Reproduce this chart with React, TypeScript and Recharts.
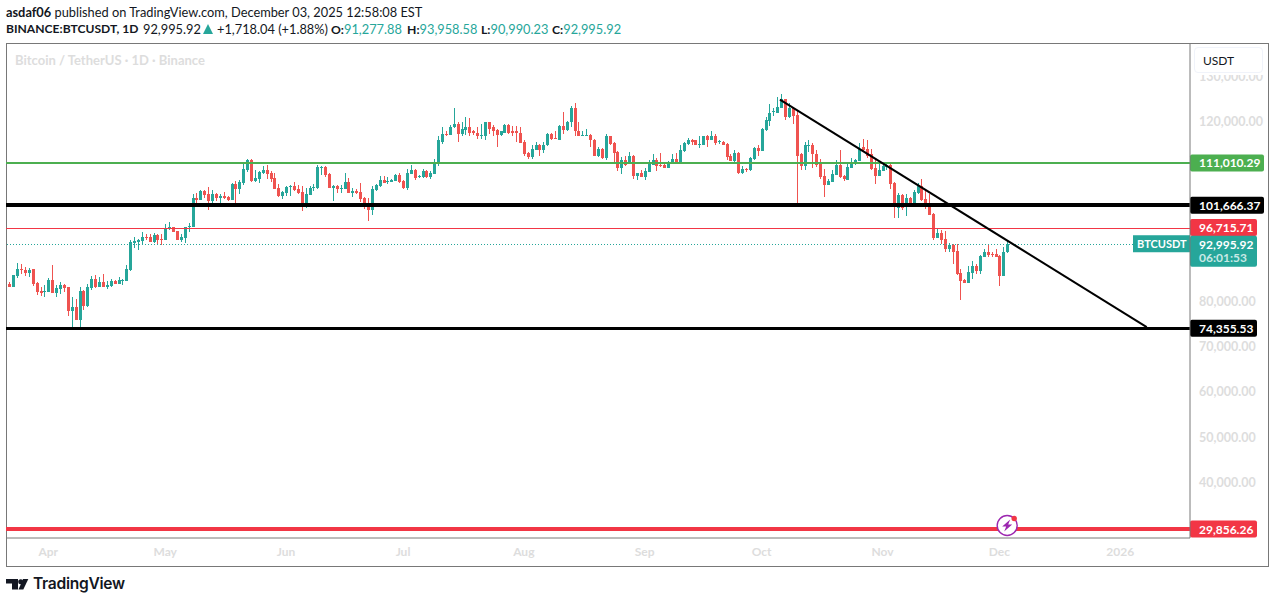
import React from "react";
import { ComposedChart, Bar, XAxis, YAxis, ReferenceLine, ReferenceDot } from "recharts";

// daily candles in thousands of USDT (Mar 22 -> Dec 3 2025)
const opens = [
  84.2,83.6,86.0,87.5,87.3,86.6,87.4,84.4,82.6,82.4,
  82.4,85.1,82.2,83.1,84.0,83.5,78.2,79.1,76.2,82.6,
  79.3,83.3,85.3,83.5,84.6,83.5,83.7,84.8,84.2,84.9,
  84.8,87.3,93.3,93.6,93.7,94.6,94.6,93.5,95.1,94.2,
  94.0,96.3,96.8,96.0,94.0,94.4,96.8,96.8,103.3,102.8,
  104.8,104.2,102.6,104.2,103.3,103.7,103.5,102.9,106.4,105.3,
  106.6,109.5,111.7,107.1,107.5,108.9,109.5,108.9,107.7,105.5,
  103.7,104.4,105.7,106.0,105.3,104.6,102.0,104.0,105.5,105.5,
  110.0,110.2,108.6,105.5,106.0,105.4,105.3,106.9,104.4,104.9,
  104.6,103.3,102.2,100.6,105.1,106.0,107.3,106.9,106.9,107.1,
  108.4,107.1,105.5,108.6,109.5,108.0,108.0,109.3,108.0,108.6,
  111.1,115.7,117.5,117.3,118.9,119.7,117.5,118.4,119.1,118.0,
  117.7,117.1,117.1,120.0,118.9,118.4,117.3,117.7,119.5,118.0,
  118.0,117.7,115.7,113.3,112.4,114.0,115.1,114.0,114.9,117.5,
  116.6,116.2,119.3,118.4,120.0,123.3,118.2,117.1,117.1,117.3,
  116.2,112.6,114.2,112.2,116.9,115.5,113.5,110.0,111.7,111.1,
  112.6,108.2,108.9,108.0,109.1,110.6,111.7,110.6,110.6,110.0,
  111.1,112.0,111.1,113.7,115.3,116.0,116.0,115.1,115.1,116.9,
  116.2,117.1,115.6,115.7,115.3,112.6,111.5,113.3,108.9,109.7,
  109.5,112.0,114.4,113.7,118.4,120.4,122.4,122.2,123.3,125.1,
  121.1,123.3,121.7,112.9,110.4,114.9,115.1,113.1,110.9,108.2,
  106.2,106.9,108.4,110.6,108.2,107.3,110.0,111.3,111.5,114.6,
  114.2,112.9,110.0,108.2,109.3,110.2,110.6,106.6,101.0,104.0,
  101.4,103.3,102.0,104.4,106.0,103.1,101.7,99.7,94.4,95.5,
  94.2,92.0,92.9,91.5,86.6,85.1,84.4,86.6,88.2,87.1,
  90.2,91.3,90.9,90.9,90.4,86.0,91.27788,
];
const closes = [
  83.6,86.2,87.5,87.3,86.6,87.3,84.2,82.4,82.2,82.6,
  85.1,82.2,83.3,84.0,83.3,78.2,79.1,76.2,82.6,79.3,
  83.5,85.3,83.5,84.6,83.5,84.0,84.8,84.2,85.1,85.1,
  87.5,93.5,93.7,94.0,94.6,94.4,93.5,95.1,94.0,94.0,
  96.5,96.8,95.7,94.0,94.6,96.8,97.1,103.3,102.8,104.8,
  104.0,102.6,104.2,103.3,103.7,103.3,102.9,106.4,105.3,106.9,
  109.7,111.7,107.1,107.7,109.1,109.5,108.6,107.5,105.3,103.7,
  104.6,105.7,106.0,105.1,104.4,102.0,104.2,105.5,105.7,110.2,
  110.2,108.4,105.5,106.0,105.3,105.5,106.9,104.4,104.9,104.4,
  103.1,102.2,100.6,105.3,106.2,107.3,106.6,107.1,107.3,108.4,
  106.9,105.5,108.9,109.5,107.7,108.2,109.3,108.0,108.9,111.1,
  116.0,117.5,117.3,119.1,119.7,117.5,118.6,119.1,117.7,117.7,
  117.1,117.3,120.0,118.6,118.2,117.3,118.0,119.5,117.7,117.7,
  117.7,115.5,113.1,112.4,114.2,115.1,114.0,115.1,117.5,116.4,
  116.4,119.3,118.4,120.2,123.3,118.0,117.1,117.2,117.2,116.0,
  112.6,114.2,112.2,116.9,115.3,113.3,110.0,111.7,110.6,112.6,
  108.2,108.9,108.0,109.3,110.9,111.7,110.4,110.4,110.0,111.1,
  112.0,111.3,114.0,115.5,116.0,115.7,115.1,115.3,116.9,116.2,
  117.1,115.5,115.8,115.1,112.4,111.5,113.3,108.9,109.7,109.5,
  112.2,114.4,113.7,118.6,120.6,122.2,122.6,123.5,125.1,121.1,
  123.3,121.5,112.6,110.4,114.9,115.1,112.9,110.6,108.0,106.2,
  107.1,108.6,110.6,108.0,107.5,110.2,110.9,111.7,114.2,114.0,
  112.6,109.7,108.2,109.5,110.4,110.6,106.4,102.1,104.0,101.0,
  103.3,102.0,104.6,106.2,102.9,101.7,99.5,94.4,95.5,94.0,
  92.0,92.9,91.3,86.4,84.9,84.4,86.9,88.2,87.1,90.4,
  91.3,90.6,90.6,90.2,86.0,91.3,92.99592,
];
const highs = [
  84.6,86.2,88.8,88.6,87.9,87.7,87.5,84.6,83.5,84.0,
  85.5,88.4,84.0,84.6,84.2,83.6,81.3,80.9,83.5,82.8,
  84.2,86.0,86.2,85.7,86.4,84.8,85.4,85.1,85.7,85.4,
  88.5,94.0,94.6,94.1,95.7,95.3,95.3,95.5,95.3,95.3,
  97.5,98.0,96.9,96.0,95.3,96.9,97.7,104.2,104.4,105.1,
  105.1,105.7,105.1,104.4,104.2,104.6,103.7,106.6,107.1,107.3,
  110.9,112.0,111.8,109.5,109.3,110.4,110.6,109.3,108.9,106.4,
  104.9,106.0,106.1,106.9,106.2,106.0,105.5,106.0,106.4,110.6,
  110.4,110.4,108.9,106.2,106.2,106.2,108.9,107.7,105.5,105.3,
  106.6,103.5,103.3,106.0,106.3,108.2,108.2,108.0,107.5,108.6,
  108.9,107.3,109.7,110.6,109.7,108.4,109.7,109.5,109.3,112.0,
  116.9,118.9,118.2,119.5,123.3,120.0,120.0,121.1,120.9,118.4,
  118.9,119.7,120.2,120.2,119.5,118.5,118.2,119.7,119.7,119.3,
  119.3,118.9,116.0,113.5,114.9,115.7,115.2,115.7,117.6,117.6,
  118.0,119.4,122.4,120.4,123.7,124.4,120.0,118.0,118.6,117.5,
  116.3,114.6,114.4,117.5,117.1,115.7,113.7,112.4,112.6,113.5,
  112.7,108.9,109.5,110.0,111.7,112.9,112.2,113.3,110.9,111.5,
  112.9,113.3,114.9,115.7,116.6,116.4,116.2,116.9,116.9,117.3,
  118.0,117.5,116.2,115.8,115.4,112.9,114.0,113.5,110.4,109.8,
  112.4,114.5,114.9,118.7,121.1,124.0,123.1,125.7,126.2,125.2,
  124.4,123.5,122.6,113.3,115.7,116.0,115.5,114.0,112.0,109.7,
  107.5,109.5,111.7,114.0,108.4,110.9,112.2,112.0,115.5,116.4,
  116.2,114.2,111.7,111.1,110.9,111.0,110.9,106.7,104.3,104.2,
  104.2,103.4,105.1,106.6,107.5,105.1,104.2,100.0,96.4,96.2,
  96.0,93.3,93.1,93.1,87.5,85.3,88.2,89.3,88.6,90.6,
  92.0,93.1,91.3,92.0,90.5,92.4,93.95858,
];
const lows = [
  83.6,83.5,85.6,86.4,86.0,85.7,83.7,81.7,81.5,81.3,
  82.4,82.2,81.3,82.0,82.4,77.1,74.5,76.2,74.6,78.4,
  79.1,82.8,83.3,83.5,83.5,83.1,83.6,84.2,84.2,84.0,
  84.8,87.1,92.2,91.7,92.8,94.0,93.5,93.3,93.1,92.8,
  94.0,96.2,95.7,94.0,93.5,93.3,95.7,96.8,102.2,102.8,
  103.3,100.6,102.2,102.6,102.2,103.1,102.6,102.9,102.2,104.2,
  106.2,109.1,106.9,106.9,106.6,108.6,107.5,106.9,105.3,103.5,
  103.1,103.7,103.7,104.9,104.2,100.4,101.1,104.0,104.9,105.3,
  108.4,108.0,105.5,102.6,104.4,104.4,105.3,104.4,103.5,104.2,
  102.4,100.9,98.2,99.5,104.9,105.7,106.6,106.4,106.9,107.1,
  106.6,105.3,105.1,108.6,107.3,107.7,107.7,107.7,107.5,108.6,
  110.4,115.3,116.9,117.3,118.8,115.7,117.1,117.3,116.9,117.3,
  116.4,116.4,116.2,117.5,117.1,114.6,117.1,117.7,117.5,116.9,
  115.7,115.5,112.6,112.0,112.0,114.0,112.6,113.3,114.8,116.0,
  116.4,116.1,117.5,118.2,118.9,117.1,116.9,117.0,117.0,114.6,
  112.6,112.4,112.0,111.7,115.1,110.9,109.3,108.6,110.4,111.1,
  107.5,107.3,108.0,107.3,109.1,110.6,109.3,110.2,110.0,110.0,
  110.9,111.1,111.1,113.5,115.1,115.1,115.1,114.4,114.9,114.6,
  116.2,115.1,115.3,115.0,111.7,111.5,111.3,108.6,108.6,109.1,
  109.3,111.7,112.6,113.6,118.2,119.3,121.5,122.1,123.1,120.6,
  121.0,119.7,102.1,109.5,109.5,113.5,110.0,110.2,107.5,103.5,
  106.1,106.8,108.3,107.7,107.1,107.2,109.9,110.6,111.4,113.5,
  112.2,109.5,106.4,108.1,109.2,109.5,105.3,98.9,98.9,100.5,
  99.3,101.7,101.9,104.2,102.6,100.9,99.5,94.0,94.3,93.1,
  91.3,91.3,88.6,86.2,80.6,84.4,84.3,85.3,86.4,86.4,
  90.1,90.2,90.2,90.1,83.7,85.9,90.99023,
];

const monthTicks = [10, 40, 71, 101, 132, 163, 193, 224, 254, 285];
const monthLabels = ["Apr", "May", "Jun", "Jul", "Aug", "Sep", "Oct", "Nov", "Dec", "2026"];
// 30k, 90k, 100k and 110k sit behind the price tags in the picture
const priceTicks = [40000, 50000, 60000, 70000, 80000, 120000, 130000];

const lastPrice = 92995.92;
const resistance = 111010.29;
const upperBlack = 101666.37;
const thinRed = 96715.71;
const lowerBlack = 74355.53;
const bottomRed = 29856.26;
const trendStart = { x: 197.7, y: 125067 };
const trendEnd = { x: 291.8, y: 74622 };

const GREEN = "#26a69a";
const RED = "#ef5350";
const FONT = "Lato, sans-serif";

const rows = opens.map((o, i) => ({
  day: i,
  open: o * 1000,
  close: closes[i] * 1000,
  high: highs[i] * 1000,
  low: lows[i] * 1000,
  range: [lows[i] * 1000, highs[i] * 1000],
}));

const fmt = (v: number) =>
  v.toLocaleString("en-US", { minimumFractionDigits: 2, maximumFractionDigits: 2 });

function Candle(props: any) {
  const { x, y, width, height, payload } = props;
  if (!payload) return null;
  const { open, close, high, low } = payload;
  const perUnit = height / (high - low || 1);
  const top = Math.round(y + (high - Math.max(open, close)) * perUnit);
  const bottom = Math.round(y + (high - Math.min(open, close)) * perUnit);
  const color = close >= open ? GREEN : RED;
  const left = Math.round(x) + 1;
  const cx = left + width / 2;
  return (
    <g>
      <line x1={cx} x2={cx} y1={Math.round(y)} y2={Math.round(y + height)} stroke={color} strokeWidth={1} />
      <rect x={left} y={top} width={width} height={Math.max(bottom - top, 1)} fill={color} />
    </g>
  );
}

function PriceTag(props: any) {
  const { viewBox, value, color } = props;
  if (!viewBox) return null;
  const left = viewBox.x + viewBox.width;
  const w = value >= 100000 ? 74 : 67;
  return (
    <g>
      <rect x={left} y={viewBox.y - 8.5} width={w} height={17} rx={2} fill={color} />
      <text x={left + 9} y={viewBox.y + 4.5} fill="#fff" fontSize={12} fontWeight={700} fontFamily={FONT}>
        {fmt(value)}
      </text>
    </g>
  );
}

function LastTag(props: any) {
  const { viewBox } = props;
  if (!viewBox) return null;
  const left = viewBox.x + viewBox.width;
  return (
    <g fontFamily={FONT}>
      <rect x={left - 57} y={viewBox.y - 9} width={57} height={17} fill={GREEN} />
      <text x={left - 53} y={viewBox.y + 4} fill="#fff" fontSize={11} fontWeight={700}>BTCUSDT</text>
      <rect x={left} y={viewBox.y - 8.5} width={67} height={31} rx={2} fill={GREEN} />
      <text x={left + 9} y={viewBox.y + 4.5} fill="#fff" fontSize={12} fontWeight={700}>{fmt(lastPrice)}</text>
      <text x={left + 9} y={viewBox.y + 18} fill="#c9e9e6" fontSize={12} fontWeight={700}>06:01:53</text>
    </g>
  );
}

function FlashIcon(props: any) {
  const { cx, cy } = props;
  return (
    <g>
      <circle cx={cx} cy={cy} r={10} fill="#fff" stroke="#9c27b0" strokeWidth={1.4} />
      <path d={`M${cx + 3} ${cy - 6}L${cx - 5} ${cy + 1}H${cx - 1}L${cx - 3} ${cy + 6}L${cx + 5} ${cy - 1}H${cx + 1}Z`} fill="#9c27b0" />
      <circle cx={cx + 7} cy={cy - 7} r={2.7} fill="#f23645" />
    </g>
  );
}

const textStyle: React.CSSProperties = {
  position: "absolute",
  whiteSpace: "nowrap",
  fontFamily: FONT,
  fontSize: 12.8,
  color: "#131722",
  lineHeight: "16px",
};

// second header line, placed piece by piece
function Quote({ left, label, value }: { left: number; label: string; value: string }) {
  return (
    <div style={{ ...textStyle, left, top: 21 }}>
      <b style={{ fontSize: 12.2 }}>{label}</b>
      <span style={{ color: GREEN }}>{value}</span>
    </div>
  );
}

export default function App() {
  return (
    <div style={{ position: "absolute", left: 0, top: 0, width: 1275, height: 603, background: "#fff", overflow: "hidden" }}>
      <div style={{ ...textStyle, left: 6, top: 4 }}>
        <b>asdaf06</b> published on TradingView.com, December 03, 2025 12:58:08 EST
      </div>
      <div style={{ ...textStyle, left: 6, top: 21, fontSize: 12.1, fontWeight: 700 }}>BINANCE:BTCUSDT, 1D</div>
      <div style={{ ...textStyle, left: 143, top: 21 }}>92,995.92</div>
      <svg style={{ position: "absolute", left: 203, top: 24 }} width={10} height={10}>
        <path d="M5 0L10 10H0Z" fill={GREEN} />
      </svg>
      <div style={{ ...textStyle, left: 217, top: 21 }}>+1,718.04 (+1.88%)</div>
      <Quote left={331} label="O:" value="91,277.88" />
      <Quote left={407} label="H:" value="93,958.58" />
      <Quote left={481} label="L:" value="90,990.23" />
      <Quote left={552} label="C:" value="92,995.92" />

      <div style={{ position: "absolute", left: 6, top: 43, width: 1261, height: 522, border: "1px solid #787878" }} />
      <div style={{ ...textStyle, left: 15, top: 52, color: "#dddddd", fontWeight: 700, fontSize: 13 }}>
        Bitcoin / TetherUS · 1D · Binance
      </div>

      <div style={{ position: "absolute", left: 0, top: 0 }}>
        <ComposedChart
          width={1275}
          height={603}
          data={rows}
          margin={{ top: 44, right: 7, bottom: 37, left: 6 }}
        >
          <XAxis
            dataKey="day"
            type="number"
            domain={[-0.85, 302.9]}
            ticks={monthTicks}
            interval={0}
            height={28}
            axisLine={{ stroke: "#787878" }}
            tickLine={false}
            tick={{ fill: "#dddddd", fontSize: 12, fontFamily: FONT, fontWeight: 700, dy: 1 }}
            tickFormatter={(v: number) => monthLabels[monthTicks.indexOf(v)]}
          />
          <YAxis
            orientation="right"
            width={78}
            domain={[27861, 137396]}
            ticks={priceTicks}
            interval={0}
            axisLine={{ stroke: "#787878" }}
            tickLine={false}
            tickMargin={3}
            tick={{ fill: "#dddddd", fontSize: 12.5, fontFamily: FONT, fontWeight: 700, dy: -1 }}
            tickFormatter={fmt}
          />
          <Bar dataKey="range" barSize={3} shape={<Candle />} isAnimationActive={false} />
          <ReferenceLine y={resistance} stroke="#4caf50" strokeWidth={2} shapeRendering="crispEdges" label={<PriceTag value={resistance} color="#4caf50" />} />
          <ReferenceLine y={upperBlack} stroke="#000" strokeWidth={4} shapeRendering="crispEdges" label={<PriceTag value={upperBlack} color="#000" />} />
          <ReferenceLine y={thinRed} stroke="#f23645" strokeWidth={1} shapeRendering="crispEdges" transform="translate(0 1)" label={<PriceTag value={thinRed} color="#f23645" />} />
          <ReferenceLine y={lastPrice} stroke={GREEN} strokeDasharray="1 2" strokeWidth={1} shapeRendering="crispEdges" label={<LastTag />} />
          <ReferenceLine y={lowerBlack} stroke="#000" strokeWidth={3} shapeRendering="crispEdges" label={<PriceTag value={lowerBlack} color="#000" />} />
          <ReferenceLine y={bottomRed} stroke="#f23645" strokeWidth={4} shapeRendering="crispEdges" label={<PriceTag value={bottomRed} color="#f23645" />} />
          <ReferenceLine segment={[trendStart, trendEnd]} stroke="#000" strokeWidth={2} />
          <ReferenceDot x={256} y={30622} r={10} shape={<FlashIcon />} />
        </ComposedChart>
      </div>

      {/* currency button over the top of the price scale */}
      <div style={{ position: "absolute", left: 1191, top: 44, width: 76, height: 31, background: "#fff" }} />
      <div style={{ ...textStyle, left: 1194, top: 47, width: 69, height: 26, background: "#fff", border: "1px solid #f0f3fa", borderRadius: 4, fontSize: 12, lineHeight: "26px", paddingLeft: 8, boxSizing: "border-box" }}>
        USDT
      </div>

      <svg style={{ position: "absolute", left: 6, top: 577 }} width={24} height={15}>
        <path d="M0 2H12V12.5H6V6.5H0Z" fill="#131722" />
        <circle cx={14.7} cy={4.7} r={2.5} fill="#131722" />
        <path d="M17 2H22.3L17.3 12.5H12.5Z" fill="#131722" />
      </svg>
      <div style={{ position: "absolute", left: 33, top: 574, fontFamily: "Inter, sans-serif", fontWeight: 600, fontSize: 15.6, lineHeight: "20px", color: "#131722", letterSpacing: -0.3 }}>
        TradingView
      </div>
    </div>
  );
}
